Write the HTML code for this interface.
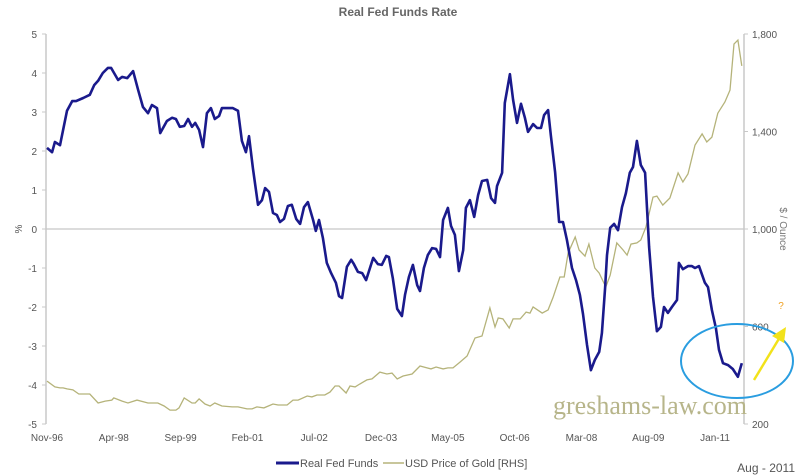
<!DOCTYPE html>
<html><head><meta charset="utf-8"><style>
html,body{margin:0;padding:0;background:#fff;}
svg{display:block;font-family:"Liberation Sans",sans-serif;}
</style></head><body>
<svg id="chart" width="800" height="476" viewBox="0 0 800 476">
<text x="398" y="16" text-anchor="middle" font-size="12" font-weight="bold" fill="#666">Real Fed Funds Rate</text>
<g id="axes"></g>
<g id="series"></g>
<text x="650" y="414" text-anchor="middle" font-family="Liberation Serif,serif" font-size="26" fill="#b7b58a">greshams-law.com</text>
<ellipse cx="737" cy="361" rx="56" ry="37" fill="none" stroke="#2a9de0" stroke-width="2"/>
<line x1="754" y1="380" x2="780" y2="337" stroke="#f2e21a" stroke-width="2.5"/>
<polygon points="786,327 784,343 772,336" fill="#f2e21a"/>
<text x="781" y="309" text-anchor="middle" font-size="10" fill="#f0a020">?</text>
<g>
<line x1="276" y1="463" x2="299" y2="463" stroke="#1a1a8c" stroke-width="3"/>
<text x="300" y="467" font-size="11" fill="#555">Real Fed Funds</text>
<line x1="383" y1="463" x2="404" y2="463" stroke="#b5b37a" stroke-width="1.5"/>
<text x="405" y="467" font-size="11" fill="#555">USD Price of Gold [RHS]</text>
</g>
<text x="795" y="472" text-anchor="end" font-size="12" fill="#555">Aug - 2011</text>
</svg>
<script>
const xLabels=["Nov-96","Apr-98","Sep-99","Feb-01","Jul-02","Dec-03","May-05","Oct-06","Mar-08","Aug-09","Jan-11"];
const xLabelMonths=[0,17,34,51,68,85,102,119,136,153,170];
const leftTicks=[5,4,3,2,1,0,-1,-2,-3,-4,-5];
const rightTicks=[1800,1400,1000,600,200];
const rightTickLabels=["1,800","1,400","1,000","600","200"];
const fedMonths=[0,1.3,2.0,3.3,5.1,6.4,7.4,9.2,10.9,12.0,13.0,14.2,15.5,16.3,18.1,19.1,20.4,21.9,23.2,24.4,25.7,26.7,28.0,28.8,30.5,31.8,32.8,33.8,34.9,35.9,36.9,37.7,38.7,39.7,40.7,41.7,42.7,43.8,44.5,47.3,48.6,49.6,50.6,51.4,52.4,53.7,54.7,55.5,56.5,57.5,58.5,59.3,60.3,61.3,62.3,63.4,64.4,65.4,66.4,67.7,68.4,69.2,70.2,71.2,72.3,73.5,74.3,75.1,76.3,77.4,78.1,79.1,80.2,81.2,83.0,84.2,85.2,86.3,87.0,88.0,89.1,90.3,91.1,92.1,93.1,94.2,94.9,95.9,96.9,98.0,99.0,100.0,100.8,102.0,102.8,103.8,104.8,105.9,106.6,107.6,108.7,109.7,110.7,112.0,113.0,114.0,114.5,115.8,116.5,117.8,118.6,119.6,120.6,121.6,122.4,123.7,124.7,125.7,126.5,127.5,128.2,129.3,130.3,131.3,132.3,133.6,134.6,135.6,136.4,137.4,138.4,139.4,140.5,141.2,142.0,142.5,143.3,144.3,145.3,146.3,147.3,148.3,149.1,150.1,151.1,152.2,153.2,154.2,155.2,156.2,157.0,158.0,159.0,160.3,160.8,161.8,163.1,164.1,164.9,165.9,167.4,168.2,169.2,170.2,171.0,172.0,173.3,174.5,175.8,176.8];
const fedValues=[2.08,1.97,2.23,2.15,3.03,3.28,3.28,3.36,3.44,3.69,3.8,4.0,4.13,4.13,3.82,3.9,3.87,4.05,3.56,3.13,2.97,3.18,3.1,2.46,2.77,2.85,2.82,2.62,2.64,2.82,2.62,2.72,2.54,2.1,2.97,3.1,2.82,2.9,3.1,3.1,3.03,2.26,1.97,2.38,1.56,0.62,0.74,1.05,0.95,0.41,0.36,0.18,0.26,0.59,0.62,0.26,0.13,0.56,0.69,0.23,-0.05,0.23,-0.23,-0.87,-1.13,-1.38,-1.72,-1.77,-0.97,-0.79,-0.9,-1.1,-1.13,-1.31,-0.74,-0.9,-0.92,-0.69,-0.72,-1.26,-2.05,-2.23,-1.69,-1.23,-0.92,-1.44,-1.59,-1.0,-0.67,-0.49,-0.51,-0.72,0.23,0.54,0.08,-0.15,-1.08,-0.54,0.54,0.74,0.31,0.87,1.23,1.26,0.79,0.67,1.1,1.44,3.23,3.97,3.31,2.72,3.21,2.85,2.49,2.69,2.59,2.59,2.92,3.05,2.41,1.46,0.18,0.18,-0.28,-1.0,-1.31,-1.69,-2.18,-2.97,-3.62,-3.36,-3.15,-2.67,-1.51,-0.67,0.03,0.13,-0.03,0.56,0.92,1.44,1.59,2.26,1.64,1.44,-0.46,-1.74,-2.62,-2.51,-2.0,-2.15,-2.0,-1.82,-0.87,-1.03,-0.95,-0.95,-1.0,-0.95,-1.38,-1.49,-2.08,-2.54,-3.1,-3.44,-3.49,-3.59,-3.79,-3.44];
const goldMonths=[0,2.0,3.3,4.1,5.1,6.6,8.1,10.9,13.0,14.8,16.5,17.0,19.1,20.6,22.9,25.7,28.2,29.8,31.3,32.8,33.6,34.9,36.9,37.7,38.7,40.2,41.5,42.7,44.5,47.1,48.6,50.9,52.2,53.4,55.2,57.5,58.8,61.1,62.6,63.9,66.2,67.4,68.7,70.7,72.0,73.3,74.3,76.1,77.1,78.4,79.6,81.4,82.7,84.7,86.5,87.8,89.1,90.6,92.9,94.9,96.7,97.7,99.0,100.8,102.0,103.3,105.1,106.9,108.9,110.7,112.7,114.0,114.8,116.0,117.6,118.6,120.4,121.9,122.9,123.7,126.0,127.5,128.8,130.5,131.6,132.6,134.4,135.4,136.9,137.9,139.4,140.5,142.2,143.3,145.0,146.6,147.6,148.6,150.1,151.1,152.4,154.2,155.2,156.7,158.5,160.6,161.8,163.1,164.9,166.7,167.9,169.2,170.7,172.5,173.8,174.8,175.8,176.8];
const goldValues=[376,352,348,348,344,340,323,323,286,294,298,307,294,286,298,286,286,274,257,257,266,307,286,286,303,282,274,286,274,270,270,262,262,270,266,282,278,278,298,298,315,311,319,319,331,356,356,327,356,352,364,381,385,413,405,409,385,397,405,438,430,426,434,426,430,430,454,479,553,561,676,598,635,631,594,631,631,659,655,680,655,668,721,803,803,901,967,914,889,938,840,819,762,811,943,914,893,938,943,955,1008,1131,1135,1098,1127,1230,1193,1226,1344,1390,1357,1377,1475,1521,1570,1759,1775,1669];

const NS="http://www.w3.org/2000/svg";
const X0=47,X1=742.6,M1=177,YT=34,YB=424;
const xS=m=>X0+(X1-X0)*m/M1;
const yL=v=>YT+(5-v)*(YB-YT)/10;
const yR=v=>YB-(v-200)*(YB-YT)/1600;
function mk(tag,attrs,parent,text){const e=document.createElementNS(NS,tag);for(const k in attrs)e.setAttribute(k,attrs[k]);if(text!=null)e.textContent=text;parent.appendChild(e);return e;}
const axes=document.getElementById('axes'),series=document.getElementById('series');

let e=mk('line',{x1:46,y1:YT,x2:46,y2:YB,stroke:'#c8c8c8','stroke-width':1.5},axes);


e=mk('line',{x1:744,y1:YT,x2:744,y2:YB,stroke:'#c8c8c8','stroke-width':1.5},axes);


e=mk('line',{x1:46,y1:yL(0),x2:744,y2:yL(0),stroke:'#c8c8c8','stroke-width':1.2},axes);



leftTicks.forEach(v=>{
  const t=mk('line',{x1:42,y1:yL(v),x2:46,y2:yL(v),stroke:'#c8c8c8'},axes);
  
  
  const l=mk('text',{x:37,y:yL(v)+4,'text-anchor':'end','font-size':10,fill:'#555'},axes,String(v));
  
  
});
rightTicks.forEach((v,i)=>{
  const t=mk('line',{x1:744,y1:yR(v),x2:748,y2:yR(v),stroke:'#c8c8c8'},axes);
  
  
  const l=mk('text',{x:752,y:yR(v)+4,'font-size':10,fill:'#555'},axes,rightTickLabels[i]);
  
  
});
xLabels.forEach((s,i)=>{
  const l=mk('text',{x:xS(xLabelMonths[i]),y:441,'text-anchor':'middle','font-size':10,fill:'#555'},axes,s);
  
  
});
e=mk('text',{x:0,y:0,transform:'translate(22,229) rotate(-90)','text-anchor':'middle','font-size':10,fill:'#555'},axes,'%');


e=mk('text',{x:0,y:0,transform:'translate(780,229) rotate(90)','text-anchor':'middle','font-size':10,fill:'#777'},axes,'$ / Ounce');



const gp=goldMonths.map((m,i)=>xS(m).toFixed(1)+','+yR(goldValues[i]).toFixed(1)).join(' ');
e=mk('polyline',{points:gp,fill:'none',stroke:'#b5b37a','stroke-width':1.3},series);


const fp=fedMonths.map((m,i)=>xS(m).toFixed(1)+','+yL(fedValues[i]).toFixed(1)).join(' ');
e=mk('polyline',{points:fp,fill:'none',stroke:'#1a1a8c','stroke-width':2.6,'stroke-linejoin':'round'},series);


</script>
</body></html>
